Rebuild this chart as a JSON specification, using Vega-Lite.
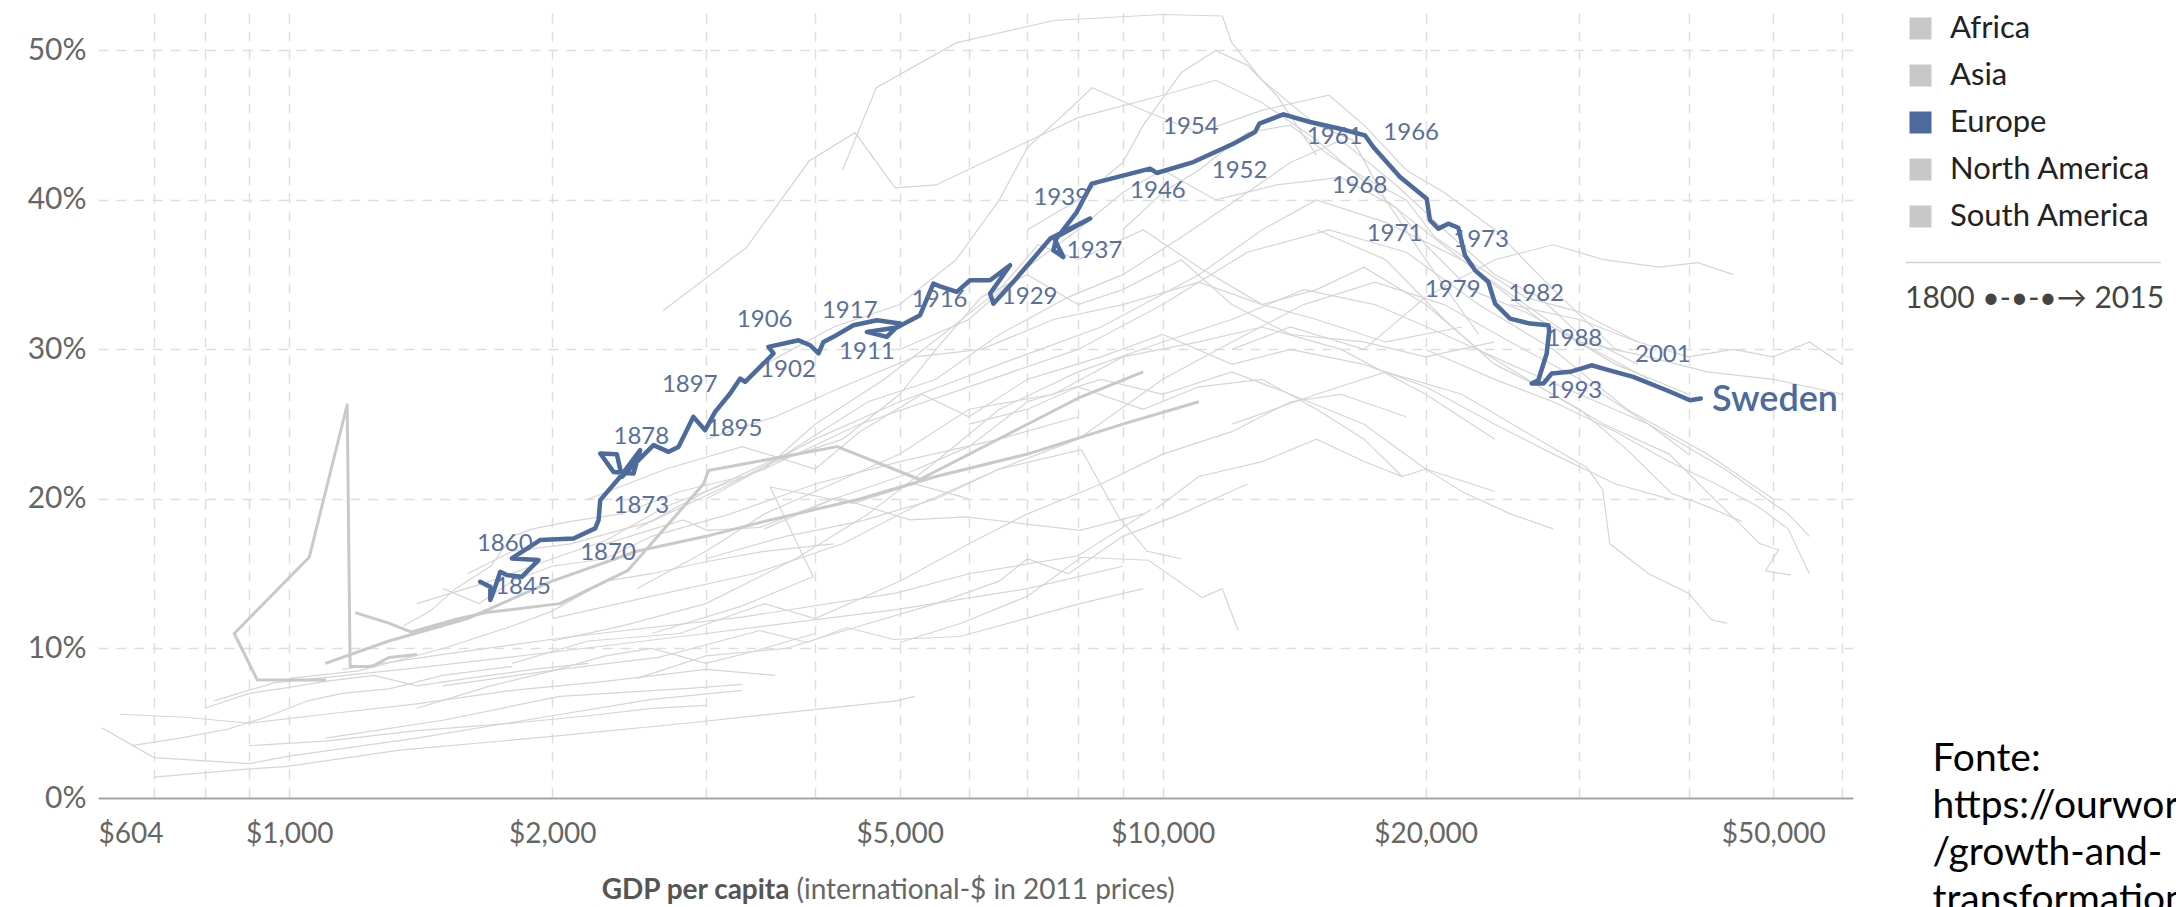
{
  "$schema": "https://vega.github.io/schema/vega-lite/v6.json",
  "width": 1755,
  "height": 785,
  "autosize": "none",
  "padding": {"left": 98, "top": 13, "right": 323, "bottom": 109},
  "background": "#ffffff",
  "config": {"view": {"stroke": null}, "font": "Lato"},
  "datasets": {
    "others": [
      {"country":"Nigeria","step":0,"gdp":700,"share":0.014},{"country":"Nigeria","step":1,"gdp":880,"share":0.019},{"country":"Nigeria","step":2,"gdp":990,"share":0.021},{"country":"Nigeria","step":3,"gdp":1340,"share":0.032},{"country":"Nigeria","step":4,"gdp":1985,"share":0.041},{"country":"Nigeria","step":5,"gdp":2850,"share":0.050},{"country":"Nigeria","step":6,"gdp":4960,"share":0.065},{"country":"Nigeria","step":7,"gdp":5200,"share":0.068},
      {"country":"Ghana","step":0,"gdp":610,"share":0.047},{"country":"Ghana","step":1,"gdp":700,"share":0.027},{"country":"Ghana","step":2,"gdp":900,"share":0.023},{"country":"Ghana","step":3,"gdp":1000,"share":0.028},{"country":"Ghana","step":4,"gdp":1400,"share":0.040},{"country":"Ghana","step":5,"gdp":2000,"share":0.055},{"country":"Ghana","step":6,"gdp":2600,"share":0.066},{"country":"Ghana","step":7,"gdp":3300,"share":0.072},
      {"country":"Kenya","step":0,"gdp":640,"share":0.056},{"country":"Kenya","step":1,"gdp":760,"share":0.054},{"country":"Kenya","step":2,"gdp":900,"share":0.050},{"country":"Kenya","step":3,"gdp":1100,"share":0.056},{"country":"Kenya","step":4,"gdp":1400,"share":0.063},{"country":"Kenya","step":5,"gdp":1800,"share":0.072},{"country":"Kenya","step":6,"gdp":2300,"share":0.078},{"country":"Kenya","step":7,"gdp":3000,"share":0.086},{"country":"Kenya","step":8,"gdp":3600,"share":0.082},
      {"country":"India","step":0,"gdp":820,"share":0.065},{"country":"India","step":1,"gdp":960,"share":0.077},{"country":"India","step":2,"gdp":1400,"share":0.087},{"country":"India","step":3,"gdp":2100,"share":0.099},{"country":"India","step":4,"gdp":3000,"share":0.110},{"country":"India","step":5,"gdp":4950,"share":0.126},{"country":"India","step":6,"gdp":7000,"share":0.140},{"country":"India","step":7,"gdp":9000,"share":0.155},
      {"country":"Indonesia","step":0,"gdp":1150,"share":0.086},{"country":"Indonesia","step":1,"gdp":1500,"share":0.096},{"country":"Indonesia","step":2,"gdp":2110,"share":0.108},{"country":"Indonesia","step":3,"gdp":3300,"share":0.121},{"country":"Indonesia","step":4,"gdp":4950,"share":0.137},{"country":"Indonesia","step":5,"gdp":6000,"share":0.150},{"country":"Indonesia","step":6,"gdp":8000,"share":0.162},{"country":"Indonesia","step":7,"gdp":9700,"share":0.193},
      {"country":"Egypt","step":0,"gdp":660,"share":0.035},{"country":"Egypt","step":1,"gdp":750,"share":0.040},{"country":"Egypt","step":2,"gdp":850,"share":0.046},{"country":"Egypt","step":3,"gdp":950,"share":0.055},{"country":"Egypt","step":4,"gdp":1050,"share":0.065},{"country":"Egypt","step":5,"gdp":1150,"share":0.070},{"country":"Egypt","step":6,"gdp":1300,"share":0.073},{"country":"Egypt","step":7,"gdp":1500,"share":0.082},{"country":"Egypt","step":8,"gdp":1800,"share":0.088},
      {"country":"Morocco","step":0,"gdp":800,"share":0.060},{"country":"Morocco","step":1,"gdp":900,"share":0.070},{"country":"Morocco","step":2,"gdp":1000,"share":0.074},{"country":"Morocco","step":3,"gdp":1100,"share":0.078},{"country":"Morocco","step":4,"gdp":1250,"share":0.082},{"country":"Morocco","step":5,"gdp":1400,"share":0.075},{"country":"Morocco","step":6,"gdp":1600,"share":0.080},{"country":"Morocco","step":7,"gdp":1900,"share":0.086},{"country":"Morocco","step":8,"gdp":2200,"share":0.090},
      {"country":"Philippines","step":0,"gdp":1400,"share":0.060},{"country":"Philippines","step":1,"gdp":1700,"share":0.075},{"country":"Philippines","step":2,"gdp":2000,"share":0.085},{"country":"Philippines","step":3,"gdp":2300,"share":0.095},{"country":"Philippines","step":4,"gdp":2600,"share":0.100},{"country":"Philippines","step":5,"gdp":3000,"share":0.090},{"country":"Philippines","step":6,"gdp":3400,"share":0.098},{"country":"Philippines","step":7,"gdp":4000,"share":0.110},
      {"country":"Pakistan","step":0,"gdp":900,"share":0.035},{"country":"Pakistan","step":1,"gdp":1100,"share":0.038},{"country":"Pakistan","step":2,"gdp":1400,"share":0.045},{"country":"Pakistan","step":3,"gdp":1800,"share":0.050},{"country":"Pakistan","step":4,"gdp":2200,"share":0.055},{"country":"Pakistan","step":5,"gdp":2600,"share":0.060},{"country":"Pakistan","step":6,"gdp":3000,"share":0.062},
      {"country":"Vietnam","step":0,"gdp":1100,"share":0.040},{"country":"Vietnam","step":1,"gdp":1500,"share":0.052},{"country":"Vietnam","step":2,"gdp":2041,"share":0.068},{"country":"Vietnam","step":3,"gdp":2980,"share":0.074},{"country":"Vietnam","step":4,"gdp":3300,"share":0.076},
      {"country":"Sri Lanka","step":0,"gdp":1500,"share":0.075},{"country":"Sri Lanka","step":1,"gdp":2041,"share":0.086},{"country":"Sri Lanka","step":2,"gdp":2647,"share":0.094},{"country":"Sri Lanka","step":3,"gdp":3460,"share":0.112},{"country":"Sri Lanka","step":4,"gdp":3917,"share":0.104},{"country":"Sri Lanka","step":5,"gdp":4353,"share":0.114},{"country":"Sri Lanka","step":6,"gdp":4920,"share":0.106},{"country":"Sri Lanka","step":7,"gdp":5860,"share":0.108},{"country":"Sri Lanka","step":8,"gdp":8040,"share":0.130},{"country":"Sri Lanka","step":9,"gdp":9500,"share":0.140},
      {"country":"Thailand","step":0,"gdp":2500,"share":0.080},{"country":"Thailand","step":1,"gdp":3000,"share":0.095},{"country":"Thailand","step":2,"gdp":3700,"share":0.100},{"country":"Thailand","step":3,"gdp":4500,"share":0.115},{"country":"Thailand","step":4,"gdp":5500,"share":0.130},{"country":"Thailand","step":5,"gdp":6500,"share":0.145},{"country":"Thailand","step":6,"gdp":7000,"share":0.160},{"country":"Thailand","step":7,"gdp":7800,"share":0.150},{"country":"Thailand","step":8,"gdp":9000,"share":0.175},{"country":"Thailand","step":9,"gdp":10500,"share":0.190},{"country":"Thailand","step":10,"gdp":12500,"share":0.210},
      {"country":"Brazil","step":0,"gdp":1800,"share":0.090},{"country":"Brazil","step":1,"gdp":2200,"share":0.105},{"country":"Brazil","step":2,"gdp":2800,"share":0.110},{"country":"Brazil","step":3,"gdp":3500,"share":0.130},{"country":"Brazil","step":4,"gdp":4000,"share":0.120},{"country":"Brazil","step":5,"gdp":5000,"share":0.145},{"country":"Brazil","step":6,"gdp":6000,"share":0.170},{"country":"Brazil","step":7,"gdp":7000,"share":0.190},{"country":"Brazil","step":8,"gdp":8500,"share":0.210},{"country":"Brazil","step":9,"gdp":10000,"share":0.230},{"country":"Brazil","step":10,"gdp":12000,"share":0.245},{"country":"Brazil","step":11,"gdp":14000,"share":0.265},{"country":"Brazil","step":12,"gdp":16000,"share":0.270},{"country":"Brazil","step":13,"gdp":19000,"share":0.255},
      {"country":"Mexico","step":0,"gdp":1000,"share":0.080},{"country":"Mexico","step":1,"gdp":1200,"share":0.085},{"country":"Mexico","step":2,"gdp":1500,"share":0.100},{"country":"Mexico","step":3,"gdp":1800,"share":0.115},{"country":"Mexico","step":4,"gdp":2000,"share":0.125},{"country":"Mexico","step":5,"gdp":2300,"share":0.145},{"country":"Mexico","step":6,"gdp":2600,"share":0.150},{"country":"Mexico","step":7,"gdp":3000,"share":0.158},{"country":"Mexico","step":8,"gdp":3500,"share":0.165},{"country":"Mexico","step":9,"gdp":4200,"share":0.170},
      {"country":"Colombia","step":0,"gdp":1500,"share":0.140},{"country":"Colombia","step":1,"gdp":1650,"share":0.130},{"country":"Colombia","step":2,"gdp":1800,"share":0.145},{"country":"Colombia","step":3,"gdp":2000,"share":0.155},{"country":"Colombia","step":4,"gdp":2300,"share":0.160},{"country":"Colombia","step":5,"gdp":2600,"share":0.175},{"country":"Colombia","step":6,"gdp":3200,"share":0.190},{"country":"Colombia","step":7,"gdp":4000,"share":0.210},{"country":"Colombia","step":8,"gdp":5000,"share":0.225},{"country":"Colombia","step":9,"gdp":6500,"share":0.240},{"country":"Colombia","step":10,"gdp":8000,"share":0.255},
      {"country":"Chile","step":0,"gdp":1350,"share":0.115},{"country":"Chile","step":1,"gdp":1450,"share":0.125},{"country":"Chile","step":2,"gdp":1550,"share":0.140},{"country":"Chile","step":3,"gdp":1700,"share":0.155},{"country":"Chile","step":4,"gdp":1800,"share":0.175},{"country":"Chile","step":5,"gdp":1900,"share":0.180},{"country":"Chile","step":6,"gdp":2100,"share":0.185},{"country":"Chile","step":7,"gdp":2400,"share":0.190},{"country":"Chile","step":8,"gdp":2800,"share":0.205},{"country":"Chile","step":9,"gdp":3300,"share":0.215},
      {"country":"Peru","step":0,"gdp":2300,"share":0.170},{"country":"Peru","step":1,"gdp":2825,"share":0.186},{"country":"Peru","step":2,"gdp":3010,"share":0.179},{"country":"Peru","step":3,"gdp":3460,"share":0.181},{"country":"Peru","step":4,"gdp":4240,"share":0.201},{"country":"Peru","step":5,"gdp":5137,"share":0.186},{"country":"Peru","step":6,"gdp":5960,"share":0.188},{"country":"Peru","step":7,"gdp":8040,"share":0.179},{"country":"Peru","step":8,"gdp":9500,"share":0.190},
      {"country":"Ecuador","step":0,"gdp":2600,"share":0.110},{"country":"Ecuador","step":1,"gdp":3283,"share":0.128},{"country":"Ecuador","step":2,"gdp":3979,"share":0.148},{"country":"Ecuador","step":3,"gdp":3553,"share":0.208},{"country":"Ecuador","step":4,"gdp":4421,"share":0.197},{"country":"Ecuador","step":5,"gdp":5200,"share":0.210},{"country":"Ecuador","step":6,"gdp":6000,"share":0.200},
      {"country":"Argentina","step":0,"gdp":2200,"share":0.200},{"country":"Argentina","step":1,"gdp":2700,"share":0.220},{"country":"Argentina","step":2,"gdp":3300,"share":0.235},{"country":"Argentina","step":3,"gdp":4000,"share":0.220},{"country":"Argentina","step":4,"gdp":4500,"share":0.245},{"country":"Argentina","step":5,"gdp":5300,"share":0.270},{"country":"Argentina","step":6,"gdp":6000,"share":0.255},{"country":"Argentina","step":7,"gdp":7000,"share":0.280},{"country":"Argentina","step":8,"gdp":8500,"share":0.295},{"country":"Argentina","step":9,"gdp":10000,"share":0.310},{"country":"Argentina","step":10,"gdp":12000,"share":0.290},{"country":"Argentina","step":11,"gdp":14000,"share":0.300},{"country":"Argentina","step":12,"gdp":17000,"share":0.290},{"country":"Argentina","step":13,"gdp":20000,"share":0.275},{"country":"Argentina","step":14,"gdp":24000,"share":0.250},{"country":"Argentina","step":15,"gdp":28000,"share":0.230},{"country":"Argentina","step":16,"gdp":33000,"share":0.210},{"country":"Argentina","step":17,"gdp":38000,"share":0.200},
      {"country":"Venezuela","step":0,"gdp":3000,"share":0.160},{"country":"Venezuela","step":1,"gdp":3700,"share":0.175},{"country":"Venezuela","step":2,"gdp":4500,"share":0.185},{"country":"Venezuela","step":3,"gdp":5500,"share":0.200},{"country":"Venezuela","step":4,"gdp":6500,"share":0.220},{"country":"Venezuela","step":5,"gdp":8070,"share":0.233},{"country":"Venezuela","step":6,"gdp":8900,"share":0.188},{"country":"Venezuela","step":7,"gdp":9600,"share":0.165},{"country":"Venezuela","step":8,"gdp":10500,"share":0.160},
      {"country":"Uruguay","step":0,"gdp":5000,"share":0.104},{"country":"Uruguay","step":1,"gdp":5890,"share":0.117},{"country":"Uruguay","step":2,"gdp":7000,"share":0.135},{"country":"Uruguay","step":3,"gdp":8070,"share":0.161},{"country":"Uruguay","step":4,"gdp":9630,"share":0.159},{"country":"Uruguay","step":5,"gdp":11100,"share":0.134},{"country":"Uruguay","step":6,"gdp":11700,"share":0.140},{"country":"Uruguay","step":7,"gdp":12200,"share":0.112},
      {"country":"South Africa","step":0,"gdp":6000,"share":0.250},{"country":"South Africa","step":1,"gdp":7000,"share":0.260},{"country":"South Africa","step":2,"gdp":8000,"share":0.275},{"country":"South Africa","step":3,"gdp":9500,"share":0.260},{"country":"South Africa","step":4,"gdp":11000,"share":0.275},{"country":"South Africa","step":5,"gdp":13000,"share":0.280},{"country":"South Africa","step":6,"gdp":15000,"share":0.260},{"country":"South Africa","step":7,"gdp":17000,"share":0.240},{"country":"South Africa","step":8,"gdp":18800,"share":0.215},
      {"country":"Canada","step":0,"gdp":1600,"share":0.150},{"country":"Canada","step":1,"gdp":1800,"share":0.165},{"country":"Canada","step":2,"gdp":2100,"share":0.170},{"country":"Canada","step":3,"gdp":2600,"share":0.185},{"country":"Canada","step":4,"gdp":3200,"share":0.210},{"country":"Canada","step":5,"gdp":4000,"share":0.240},{"country":"Canada","step":6,"gdp":5000,"share":0.265},{"country":"Canada","step":7,"gdp":6500,"share":0.290},{"country":"Canada","step":8,"gdp":8500,"share":0.315},{"country":"Canada","step":9,"gdp":11000,"share":0.350},{"country":"Canada","step":10,"gdp":13000,"share":0.380},{"country":"Canada","step":11,"gdp":15000,"share":0.400},{"country":"Canada","step":12,"gdp":18000,"share":0.385},{"country":"Canada","step":13,"gdp":22000,"share":0.360},{"country":"Canada","step":14,"gdp":27000,"share":0.320},{"country":"Canada","step":15,"gdp":33000,"share":0.290},{"country":"Canada","step":16,"gdp":40000,"share":0.270},
      {"country":"United States","step":0,"gdp":1400,"share":0.130},{"country":"United States","step":1,"gdp":1700,"share":0.145},{"country":"United States","step":2,"gdp":2000,"share":0.160},{"country":"United States","step":3,"gdp":2300,"share":0.172},{"country":"United States","step":4,"gdp":2700,"share":0.195},{"country":"United States","step":5,"gdp":3500,"share":0.220},{"country":"United States","step":6,"gdp":4500,"share":0.250},{"country":"United States","step":7,"gdp":6000,"share":0.275},{"country":"United States","step":8,"gdp":8000,"share":0.300},{"country":"United States","step":9,"gdp":10000,"share":0.330},{"country":"United States","step":10,"gdp":12500,"share":0.365},{"country":"United States","step":11,"gdp":15500,"share":0.380},{"country":"United States","step":12,"gdp":19000,"share":0.365},{"country":"United States","step":13,"gdp":23000,"share":0.330},{"country":"United States","step":14,"gdp":28000,"share":0.300},{"country":"United States","step":15,"gdp":34000,"share":0.260},{"country":"United States","step":16,"gdp":42000,"share":0.230},{"country":"United States","step":17,"gdp":50000,"share":0.200},
      {"country":"Japan","step":0,"gdp":2000,"share":0.120},{"country":"Japan","step":1,"gdp":2600,"share":0.135},{"country":"Japan","step":2,"gdp":3400,"share":0.150},{"country":"Japan","step":3,"gdp":4300,"share":0.170},{"country":"Japan","step":4,"gdp":5200,"share":0.195},{"country":"Japan","step":5,"gdp":6500,"share":0.220},{"country":"Japan","step":6,"gdp":8000,"share":0.240},{"country":"Japan","step":7,"gdp":10000,"share":0.280},{"country":"Japan","step":8,"gdp":12000,"share":0.305},{"country":"Japan","step":9,"gdp":14500,"share":0.330},{"country":"Japan","step":10,"gdp":17500,"share":0.345},{"country":"Japan","step":11,"gdp":21000,"share":0.330},{"country":"Japan","step":12,"gdp":25000,"share":0.305},{"country":"Japan","step":13,"gdp":30000,"share":0.280},{"country":"Japan","step":14,"gdp":36000,"share":0.250},{"country":"Japan","step":15,"gdp":44000,"share":0.220},{"country":"Japan","step":16,"gdp":52000,"share":0.190},{"country":"Japan","step":17,"gdp":55000,"share":0.175},
      {"country":"Germany","step":0,"gdp":2500,"share":0.180},{"country":"Germany","step":1,"gdp":3000,"share":0.205},{"country":"Germany","step":2,"gdp":3700,"share":0.230},{"country":"Germany","step":3,"gdp":4600,"share":0.265},{"country":"Germany","step":4,"gdp":5500,"share":0.280},{"country":"Germany","step":5,"gdp":6500,"share":0.310},{"country":"Germany","step":6,"gdp":7800,"share":0.335},{"country":"Germany","step":7,"gdp":9000,"share":0.350},{"country":"Germany","step":8,"gdp":10500,"share":0.375},{"country":"Germany","step":9,"gdp":12500,"share":0.405},{"country":"Germany","step":10,"gdp":14000,"share":0.425},{"country":"Germany","step":11,"gdp":16000,"share":0.440},{"country":"Germany","step":12,"gdp":18500,"share":0.410},{"country":"Germany","step":13,"gdp":21000,"share":0.380},{"country":"Germany","step":14,"gdp":24000,"share":0.350},{"country":"Germany","step":15,"gdp":27000,"share":0.335},{"country":"Germany","step":16,"gdp":30000,"share":0.310},{"country":"Germany","step":17,"gdp":35000,"share":0.290},
      {"country":"United Kingdom","step":0,"gdp":2680,"share":0.326},{"country":"United Kingdom","step":1,"gdp":3335,"share":0.368},{"country":"United Kingdom","step":2,"gdp":3937,"share":0.426},{"country":"United Kingdom","step":3,"gdp":4444,"share":0.445},{"country":"United Kingdom","step":4,"gdp":4939,"share":0.408},{"country":"United Kingdom","step":5,"gdp":5500,"share":0.410},{"country":"United Kingdom","step":6,"gdp":6500,"share":0.430},{"country":"United Kingdom","step":7,"gdp":8000,"share":0.455},{"country":"United Kingdom","step":8,"gdp":10000,"share":0.470},{"country":"United Kingdom","step":9,"gdp":11500,"share":0.480},{"country":"United Kingdom","step":10,"gdp":13000,"share":0.465},{"country":"United Kingdom","step":11,"gdp":15000,"share":0.440},{"country":"United Kingdom","step":12,"gdp":18000,"share":0.400},{"country":"United Kingdom","step":13,"gdp":22000,"share":0.360},{"country":"United Kingdom","step":14,"gdp":26000,"share":0.330},{"country":"United Kingdom","step":15,"gdp":30000,"share":0.305},{"country":"United Kingdom","step":16,"gdp":36000,"share":0.280},
      {"country":"Belgium","step":0,"gdp":4300,"share":0.420},{"country":"Belgium","step":1,"gdp":4700,"share":0.475},{"country":"Belgium","step":2,"gdp":5800,"share":0.505},{"country":"Belgium","step":3,"gdp":7500,"share":0.520},{"country":"Belgium","step":4,"gdp":10000,"share":0.524},{"country":"Belgium","step":5,"gdp":11700,"share":0.523},{"country":"Belgium","step":6,"gdp":12000,"share":0.505},{"country":"Belgium","step":7,"gdp":13000,"share":0.480},{"country":"Belgium","step":8,"gdp":15000,"share":0.450},{"country":"Belgium","step":9,"gdp":16500,"share":0.440},{"country":"Belgium","step":10,"gdp":18000,"share":0.400},{"country":"Belgium","step":11,"gdp":20000,"share":0.360},{"country":"Belgium","step":12,"gdp":23000,"share":0.310},
      {"country":"Switzerland","step":0,"gdp":3500,"share":0.290},{"country":"Switzerland","step":1,"gdp":4200,"share":0.315},{"country":"Switzerland","step":2,"gdp":5000,"share":0.330},{"country":"Switzerland","step":3,"gdp":5800,"share":0.360},{"country":"Switzerland","step":4,"gdp":6500,"share":0.400},{"country":"Switzerland","step":5,"gdp":7000,"share":0.435},{"country":"Switzerland","step":6,"gdp":7800,"share":0.460},{"country":"Switzerland","step":7,"gdp":8300,"share":0.475},{"country":"Switzerland","step":8,"gdp":9500,"share":0.460},{"country":"Switzerland","step":9,"gdp":11000,"share":0.445},{"country":"Switzerland","step":10,"gdp":13000,"share":0.460},{"country":"Switzerland","step":11,"gdp":15500,"share":0.470},{"country":"Switzerland","step":12,"gdp":17000,"share":0.450},{"country":"Switzerland","step":13,"gdp":19000,"share":0.420},{"country":"Switzerland","step":14,"gdp":21000,"share":0.405},{"country":"Switzerland","step":15,"gdp":24000,"share":0.380},{"country":"Switzerland","step":16,"gdp":28000,"share":0.340},{"country":"Switzerland","step":17,"gdp":33000,"share":0.300},
      {"country":"Austria","step":0,"gdp":5000,"share":0.300},{"country":"Austria","step":1,"gdp":6000,"share":0.320},{"country":"Austria","step":2,"gdp":7000,"share":0.355},{"country":"Austria","step":3,"gdp":8000,"share":0.380},{"country":"Austria","step":4,"gdp":9000,"share":0.405},{"country":"Austria","step":5,"gdp":10000,"share":0.420},{"country":"Austria","step":6,"gdp":11500,"share":0.400},{"country":"Austria","step":7,"gdp":13500,"share":0.410},{"country":"Austria","step":8,"gdp":16000,"share":0.415},{"country":"Austria","step":9,"gdp":18500,"share":0.395},{"country":"Austria","step":10,"gdp":20000,"share":0.370},{"country":"Austria","step":11,"gdp":22500,"share":0.340},{"country":"Austria","step":12,"gdp":26000,"share":0.325},{"country":"Austria","step":13,"gdp":30000,"share":0.305},{"country":"Austria","step":14,"gdp":36000,"share":0.295},{"country":"Austria","step":15,"gdp":42000,"share":0.285},{"country":"Austria","step":16,"gdp":50000,"share":0.280},{"country":"Austria","step":17,"gdp":60000,"share":0.270},
      {"country":"France","step":0,"gdp":3000,"share":0.240},{"country":"France","step":1,"gdp":3600,"share":0.255},{"country":"France","step":2,"gdp":4300,"share":0.275},{"country":"France","step":3,"gdp":5200,"share":0.295},{"country":"France","step":4,"gdp":6200,"share":0.300},{"country":"France","step":5,"gdp":7500,"share":0.320},{"country":"France","step":6,"gdp":9000,"share":0.330},{"country":"France","step":7,"gdp":11000,"share":0.345},{"country":"France","step":8,"gdp":13000,"share":0.330},{"country":"France","step":9,"gdp":15000,"share":0.340},{"country":"France","step":10,"gdp":17000,"share":0.355},{"country":"France","step":11,"gdp":20000,"share":0.330},{"country":"France","step":12,"gdp":23000,"share":0.300},{"country":"France","step":13,"gdp":27000,"share":0.275},{"country":"France","step":14,"gdp":32000,"share":0.250},{"country":"France","step":15,"gdp":38000,"share":0.230},{"country":"France","step":16,"gdp":44000,"share":0.193},{"country":"France","step":17,"gdp":48300,"share":0.170},{"country":"France","step":18,"gdp":50700,"share":0.166},{"country":"France","step":19,"gdp":49000,"share":0.152},{"country":"France","step":20,"gdp":52400,"share":0.149},
      {"country":"Norway","step":0,"gdp":12000,"share":0.300},{"country":"Norway","step":1,"gdp":14000,"share":0.315},{"country":"Norway","step":2,"gdp":17000,"share":0.300},{"country":"Norway","step":3,"gdp":20000,"share":0.335},{"country":"Norway","step":4,"gdp":24000,"share":0.360},{"country":"Norway","step":5,"gdp":28000,"share":0.370},{"country":"Norway","step":6,"gdp":32000,"share":0.360},{"country":"Norway","step":7,"gdp":37000,"share":0.355},{"country":"Norway","step":8,"gdp":41000,"share":0.358},{"country":"Norway","step":9,"gdp":45000,"share":0.350},
      {"country":"Denmark","step":0,"gdp":12000,"share":0.250},{"country":"Denmark","step":1,"gdp":15000,"share":0.270},{"country":"Denmark","step":2,"gdp":18000,"share":0.285},{"country":"Denmark","step":3,"gdp":22000,"share":0.270},{"country":"Denmark","step":4,"gdp":26000,"share":0.245},{"country":"Denmark","step":5,"gdp":30600,"share":0.221},{"country":"Denmark","step":6,"gdp":31900,"share":0.206},{"country":"Denmark","step":7,"gdp":32500,"share":0.170},{"country":"Denmark","step":8,"gdp":36000,"share":0.150},{"country":"Denmark","step":9,"gdp":40000,"share":0.137},{"country":"Denmark","step":10,"gdp":42500,"share":0.119},{"country":"Denmark","step":11,"gdp":44300,"share":0.117},
      {"country":"Italy","step":0,"gdp":9000,"share":0.380},{"country":"Italy","step":1,"gdp":10000,"share":0.405},{"country":"Italy","step":2,"gdp":11000,"share":0.420},{"country":"Italy","step":3,"gdp":12500,"share":0.445},{"country":"Italy","step":4,"gdp":14000,"share":0.450},{"country":"Italy","step":5,"gdp":15500,"share":0.430},{"country":"Italy","step":6,"gdp":17000,"share":0.415},{"country":"Italy","step":7,"gdp":19000,"share":0.400},{"country":"Italy","step":8,"gdp":20500,"share":0.375},{"country":"Italy","step":9,"gdp":23000,"share":0.355},{"country":"Italy","step":10,"gdp":26000,"share":0.335},{"country":"Italy","step":11,"gdp":30000,"share":0.325},{"country":"Italy","step":12,"gdp":35000,"share":0.305},
      {"country":"Czechia","step":0,"gdp":7000,"share":0.380},{"country":"Czechia","step":1,"gdp":8000,"share":0.400},{"country":"Czechia","step":2,"gdp":9000,"share":0.425},{"country":"Czechia","step":3,"gdp":9500,"share":0.450},{"country":"Czechia","step":4,"gdp":10500,"share":0.485},{"country":"Czechia","step":5,"gdp":11500,"share":0.500},{"country":"Czechia","step":6,"gdp":12500,"share":0.490},{"country":"Czechia","step":7,"gdp":13500,"share":0.470},{"country":"Czechia","step":8,"gdp":15000,"share":0.430},
      {"country":"Spain","step":0,"gdp":9800,"share":0.193},{"country":"Spain","step":1,"gdp":11000,"share":0.215},{"country":"Spain","step":2,"gdp":13000,"share":0.225},{"country":"Spain","step":3,"gdp":15000,"share":0.240},{"country":"Spain","step":4,"gdp":17000,"share":0.225},{"country":"Spain","step":5,"gdp":18800,"share":0.215},{"country":"Spain","step":6,"gdp":20000,"share":0.220},{"country":"Spain","step":7,"gdp":22000,"share":0.205},{"country":"Spain","step":8,"gdp":25000,"share":0.190},{"country":"Spain","step":9,"gdp":28000,"share":0.180},
      {"country":"Portugal","step":0,"gdp":2500,"share":0.140},{"country":"Portugal","step":1,"gdp":3000,"share":0.165},{"country":"Portugal","step":2,"gdp":3500,"share":0.190},{"country":"Portugal","step":3,"gdp":4000,"share":0.205},{"country":"Portugal","step":4,"gdp":5000,"share":0.230},{"country":"Portugal","step":5,"gdp":6000,"share":0.260},{"country":"Portugal","step":6,"gdp":7500,"share":0.270},{"country":"Portugal","step":7,"gdp":9000,"share":0.295},{"country":"Portugal","step":8,"gdp":11000,"share":0.305},{"country":"Portugal","step":9,"gdp":13000,"share":0.315},{"country":"Portugal","step":10,"gdp":16000,"share":0.300},{"country":"Portugal","step":11,"gdp":20000,"share":0.270},{"country":"Portugal","step":12,"gdp":24000,"share":0.240},
      {"country":"Greece","step":0,"gdp":3500,"share":0.180},{"country":"Greece","step":1,"gdp":4200,"share":0.200},{"country":"Greece","step":2,"gdp":5000,"share":0.215},{"country":"Greece","step":3,"gdp":6000,"share":0.235},{"country":"Greece","step":4,"gdp":7000,"share":0.265},{"country":"Greece","step":5,"gdp":8500,"share":0.280},{"country":"Greece","step":6,"gdp":10000,"share":0.270},{"country":"Greece","step":7,"gdp":12000,"share":0.285},{"country":"Greece","step":8,"gdp":14000,"share":0.270},{"country":"Greece","step":9,"gdp":17000,"share":0.250},{"country":"Greece","step":10,"gdp":20000,"share":0.220},{"country":"Greece","step":11,"gdp":24000,"share":0.205},
      {"country":"Finland","step":0,"gdp":2000,"share":0.105},{"country":"Finland","step":1,"gdp":2400,"share":0.115},{"country":"Finland","step":2,"gdp":3000,"share":0.130},{"country":"Finland","step":3,"gdp":3800,"share":0.160},{"country":"Finland","step":4,"gdp":4600,"share":0.190},{"country":"Finland","step":5,"gdp":5500,"share":0.225},{"country":"Finland","step":6,"gdp":6500,"share":0.260},{"country":"Finland","step":7,"gdp":8000,"share":0.285},{"country":"Finland","step":8,"gdp":10000,"share":0.305},{"country":"Finland","step":9,"gdp":12000,"share":0.320},{"country":"Finland","step":10,"gdp":14500,"share":0.340},{"country":"Finland","step":11,"gdp":17500,"share":0.330},{"country":"Finland","step":12,"gdp":21000,"share":0.310},{"country":"Finland","step":13,"gdp":25000,"share":0.290},{"country":"Finland","step":14,"gdp":30000,"share":0.270},{"country":"Finland","step":15,"gdp":36000,"share":0.250},{"country":"Finland","step":16,"gdp":40000,"share":0.230},
      {"country":"Poland","step":0,"gdp":3000,"share":0.200},{"country":"Poland","step":1,"gdp":3600,"share":0.225},{"country":"Poland","step":2,"gdp":4300,"share":0.240},{"country":"Poland","step":3,"gdp":5000,"share":0.270},{"country":"Poland","step":4,"gdp":5500,"share":0.300},{"country":"Poland","step":5,"gdp":6200,"share":0.335},{"country":"Poland","step":6,"gdp":7000,"share":0.350},{"country":"Poland","step":7,"gdp":8000,"share":0.330},{"country":"Poland","step":8,"gdp":9000,"share":0.340},{"country":"Poland","step":9,"gdp":10500,"share":0.360},{"country":"Poland","step":10,"gdp":12000,"share":0.330},{"country":"Poland","step":11,"gdp":14000,"share":0.310},{"country":"Poland","step":12,"gdp":17000,"share":0.305},{"country":"Poland","step":13,"gdp":20000,"share":0.295},{"country":"Poland","step":14,"gdp":24000,"share":0.305},
      {"country":"Hungary","step":0,"gdp":3500,"share":0.220},{"country":"Hungary","step":1,"gdp":4000,"share":0.250},{"country":"Hungary","step":2,"gdp":4800,"share":0.280},{"country":"Hungary","step":3,"gdp":5600,"share":0.310},{"country":"Hungary","step":4,"gdp":6500,"share":0.340},{"country":"Hungary","step":5,"gdp":7200,"share":0.370},{"country":"Hungary","step":6,"gdp":8000,"share":0.360},{"country":"Hungary","step":7,"gdp":9500,"share":0.380},{"country":"Hungary","step":8,"gdp":11000,"share":0.355},{"country":"Hungary","step":9,"gdp":13000,"share":0.330},{"country":"Hungary","step":10,"gdp":15000,"share":0.320},{"country":"Hungary","step":11,"gdp":18000,"share":0.305},{"country":"Hungary","step":12,"gdp":22000,"share":0.315},
      {"country":"Netherlands","step":0,"gdp":15000,"share":0.380},{"country":"Netherlands","step":1,"gdp":18000,"share":0.360},{"country":"Netherlands","step":2,"gdp":21000,"share":0.320},{"country":"Netherlands","step":3,"gdp":24000,"share":0.290},{"country":"Netherlands","step":4,"gdp":27000,"share":0.275},{"country":"Netherlands","step":5,"gdp":30000,"share":0.260},{"country":"Netherlands","step":6,"gdp":34000,"share":0.233},{"country":"Netherlands","step":7,"gdp":38200,"share":0.204},{"country":"Netherlands","step":8,"gdp":42000,"share":0.195},{"country":"Netherlands","step":9,"gdp":46000,"share":0.185},
      {"country":"Australia","step":0,"gdp":20000,"share":0.300},{"country":"Australia","step":1,"gdp":24000,"share":0.280},{"country":"Australia","step":2,"gdp":28000,"share":0.265},{"country":"Australia","step":3,"gdp":33000,"share":0.245},{"country":"Australia","step":4,"gdp":38000,"share":0.225},{"country":"Australia","step":5,"gdp":43000,"share":0.210},{"country":"Australia","step":6,"gdp":48000,"share":0.195},{"country":"Australia","step":7,"gdp":52000,"share":0.180},{"country":"Australia","step":8,"gdp":55000,"share":0.150},
      {"country":"Ireland","step":0,"gdp":25000,"share":0.330},{"country":"Ireland","step":1,"gdp":30000,"share":0.320},{"country":"Ireland","step":2,"gdp":35000,"share":0.305},{"country":"Ireland","step":3,"gdp":40000,"share":0.295},{"country":"Ireland","step":4,"gdp":45000,"share":0.300},{"country":"Ireland","step":5,"gdp":50000,"share":0.295},{"country":"Ireland","step":6,"gdp":55000,"share":0.305},{"country":"Ireland","step":7,"gdp":60000,"share":0.290}
    ],
    "others_bold": [
      {"country":"Russia","step":0,"gdp":1190,"share":0.124},{"country":"Russia","step":1,"gdp":1300,"share":0.117},{"country":"Russia","step":2,"gdp":1380,"share":0.111},{"country":"Russia","step":3,"gdp":1540,"share":0.119},{"country":"Russia","step":4,"gdp":1680,"share":0.124},{"country":"Russia","step":5,"gdp":2040,"share":0.130},{"country":"Russia","step":6,"gdp":2440,"share":0.152},{"country":"Russia","step":7,"gdp":2980,"share":0.210},{"country":"Russia","step":8,"gdp":3020,"share":0.219},{"country":"Russia","step":9,"gdp":4240,"share":0.235},{"country":"Russia","step":10,"gdp":5270,"share":0.213},{"country":"Russia","step":11,"gdp":8040,"share":0.268},{"country":"Russia","step":12,"gdp":9500,"share":0.285},
      {"country":"China","step":0,"gdp":1102,"share":0.079},{"country":"China","step":1,"gdp":919,"share":0.079},{"country":"China","step":2,"gdp":865,"share":0.110},{"country":"China","step":3,"gdp":1054,"share":0.161},{"country":"China","step":4,"gdp":1165,"share":0.263},{"country":"China","step":5,"gdp":1174,"share":0.088},{"country":"China","step":6,"gdp":1245,"share":0.088},{"country":"China","step":7,"gdp":1300,"share":0.094},{"country":"China","step":8,"gdp":1400,"share":0.096},
      {"country":"Turkey","step":0,"gdp":1100,"share":0.090},{"country":"Turkey","step":1,"gdp":1300,"share":0.105},{"country":"Turkey","step":2,"gdp":1600,"share":0.120},{"country":"Turkey","step":3,"gdp":2000,"share":0.145},{"country":"Turkey","step":4,"gdp":2500,"share":0.165},{"country":"Turkey","step":5,"gdp":3000,"share":0.175},{"country":"Turkey","step":6,"gdp":3500,"share":0.185},{"country":"Turkey","step":7,"gdp":4500,"share":0.200},{"country":"Turkey","step":8,"gdp":5500,"share":0.215},{"country":"Turkey","step":9,"gdp":7000,"share":0.230},{"country":"Turkey","step":10,"gdp":9000,"share":0.250},{"country":"Turkey","step":11,"gdp":11000,"share":0.265}
    ],
    "sweden": [
      {"country":"Sweden","continent":"Europe","year":1820,"gdp":1654,"share":0.1446},
      {"country":"Sweden","continent":"Europe","year":1830,"gdp":1699,"share":0.1412},
      {"country":"Sweden","continent":"Europe","year":1840,"gdp":1699,"share":0.1324},
      {"country":"Sweden","continent":"Europe","year":1845,"gdp":1721,"share":0.1412},
      {"country":"Sweden","continent":"Europe","year":1848,"gdp":1744,"share":0.1513},
      {"country":"Sweden","continent":"Europe","year":1850,"gdp":1775,"share":0.1491},
      {"country":"Sweden","continent":"Europe","year":1852,"gdp":1846,"share":0.1479},
      {"country":"Sweden","continent":"Europe","year":1855,"gdp":1929,"share":0.1591},
      {"country":"Sweden","continent":"Europe","year":1858,"gdp":1798,"share":0.1602},
      {"country":"Sweden","continent":"Europe","year":1860,"gdp":1937,"share":0.1725},
      {"country":"Sweden","continent":"Europe","year":1865,"gdp":2116,"share":0.1736},
      {"country":"Sweden","continent":"Europe","year":1870,"gdp":2240,"share":0.1803},
      {"country":"Sweden","continent":"Europe","year":1871,"gdp":2260,"share":0.1858},
      {"country":"Sweden","continent":"Europe","year":1873,"gdp":2270,"share":0.1992},
      {"country":"Sweden","continent":"Europe","year":1874,"gdp":2393,"share":0.2148},
      {"country":"Sweden","continent":"Europe","year":1875,"gdp":2522,"share":0.2326},
      {"country":"Sweden","continent":"Europe","year":1876,"gdp":2478,"share":0.2170},
      {"country":"Sweden","continent":"Europe","year":1877,"gdp":2351,"share":0.2181},
      {"country":"Sweden","continent":"Europe","year":1878,"gdp":2270,"share":0.2304},
      {"country":"Sweden","continent":"Europe","year":1879,"gdp":2372,"share":0.2299},
      {"country":"Sweden","continent":"Europe","year":1880,"gdp":2403,"share":0.2148},
      {"country":"Sweden","continent":"Europe","year":1885,"gdp":2612,"share":0.2360},
      {"country":"Sweden","continent":"Europe","year":1888,"gdp":2718,"share":0.2315},
      {"country":"Sweden","continent":"Europe","year":1890,"gdp":2790,"share":0.2348},
      {"country":"Sweden","continent":"Europe","year":1893,"gdp":2902,"share":0.2549},
      {"country":"Sweden","continent":"Europe","year":1895,"gdp":2993,"share":0.2460},
      {"country":"Sweden","continent":"Europe","year":1896,"gdp":3073,"share":0.2582},
      {"country":"Sweden","continent":"Europe","year":1897,"gdp":3197,"share":0.2705},
      {"country":"Sweden","continent":"Europe","year":1898,"gdp":3283,"share":0.2805},
      {"country":"Sweden","continent":"Europe","year":1899,"gdp":3326,"share":0.2783},
      {"country":"Sweden","continent":"Europe","year":1900,"gdp":3431,"share":0.2861},
      {"country":"Sweden","continent":"Europe","year":1902,"gdp":3584,"share":0.2973},
      {"country":"Sweden","continent":"Europe","year":1903,"gdp":3537,"share":0.3017},
      {"country":"Sweden","continent":"Europe","year":1906,"gdp":3829,"share":0.3061},
      {"country":"Sweden","continent":"Europe","year":1908,"gdp":3948,"share":0.3028},
      {"country":"Sweden","continent":"Europe","year":1911,"gdp":4036,"share":0.2973},
      {"country":"Sweden","continent":"Europe","year":1912,"gdp":4089,"share":0.3050},
      {"country":"Sweden","continent":"Europe","year":1913,"gdp":4198,"share":0.3084},
      {"country":"Sweden","continent":"Europe","year":1914,"gdp":4425,"share":0.3162},
      {"country":"Sweden","continent":"Europe","year":1915,"gdp":4707,"share":0.3195},
      {"country":"Sweden","continent":"Europe","year":1916,"gdp":5004,"share":0.3173},
      {"country":"Sweden","continent":"Europe","year":1917,"gdp":4832,"share":0.3084},
      {"country":"Sweden","continent":"Europe","year":1918,"gdp":4585,"share":0.3117},
      {"country":"Sweden","continent":"Europe","year":1919,"gdp":4961,"share":0.3146},
      {"country":"Sweden","continent":"Europe","year":1920,"gdp":5275,"share":0.3229},
      {"country":"Sweden","continent":"Europe","year":1922,"gdp":5463,"share":0.3440},
      {"country":"Sweden","continent":"Europe","year":1924,"gdp":5561,"share":0.3422},
      {"country":"Sweden","continent":"Europe","year":1925,"gdp":5811,"share":0.3385},
      {"country":"Sweden","continent":"Europe","year":1926,"gdp":6018,"share":0.3463},
      {"country":"Sweden","continent":"Europe","year":1927,"gdp":6344,"share":0.3463},
      {"country":"Sweden","continent":"Europe","year":1928,"gdp":6687,"share":0.3563},
      {"country":"Sweden","continent":"Europe","year":1929,"gdp":6344,"share":0.3373},
      {"country":"Sweden","continent":"Europe","year":1930,"gdp":6399,"share":0.3306},
      {"country":"Sweden","continent":"Europe","year":1931,"gdp":6746,"share":0.3452},
      {"country":"Sweden","continent":"Europe","year":1933,"gdp":7433,"share":0.3741},
      {"country":"Sweden","continent":"Europe","year":1934,"gdp":8258,"share":0.3875},
      {"country":"Sweden","continent":"Europe","year":1935,"gdp":7564,"share":0.3754},
      {"country":"Sweden","continent":"Europe","year":1936,"gdp":7495,"share":0.3663},
      {"country":"Sweden","continent":"Europe","year":1937,"gdp":7696,"share":0.3618},
      {"country":"Sweden","continent":"Europe","year":1938,"gdp":7530,"share":0.3730},
      {"country":"Sweden","continent":"Europe","year":1939,"gdp":7972,"share":0.3919},
      {"country":"Sweden","continent":"Europe","year":1940,"gdp":8294,"share":0.4109},
      {"country":"Sweden","continent":"Europe","year":1946,"gdp":9673,"share":0.4209},
      {"country":"Sweden","continent":"Europe","year":1948,"gdp":9844,"share":0.4180},
      {"country":"Sweden","continent":"Europe","year":1950,"gdp":10841,"share":0.4253},
      {"country":"Sweden","continent":"Europe","year":1952,"gdp":12046,"share":0.4376},
      {"country":"Sweden","continent":"Europe","year":1954,"gdp":12756,"share":0.4454},
      {"country":"Sweden","continent":"Europe","year":1955,"gdp":12899,"share":0.4510},
      {"country":"Sweden","continent":"Europe","year":1958,"gdp":13745,"share":0.4572},
      {"country":"Sweden","continent":"Europe","year":1961,"gdp":14744,"share":0.4521},
      {"country":"Sweden","continent":"Europe","year":1963,"gdp":15958,"share":0.4476},
      {"country":"Sweden","continent":"Europe","year":1965,"gdp":17043,"share":0.4432},
      {"country":"Sweden","continent":"Europe","year":1966,"gdp":17420,"share":0.4354},
      {"country":"Sweden","continent":"Europe","year":1968,"gdp":18692,"share":0.4153},
      {"country":"Sweden","continent":"Europe","year":1969,"gdp":20054,"share":0.4008},
      {"country":"Sweden","continent":"Europe","year":1970,"gdp":20229,"share":0.3864},
      {"country":"Sweden","continent":"Europe","year":1971,"gdp":20679,"share":0.3808},
      {"country":"Sweden","continent":"Europe","year":1972,"gdp":21231,"share":0.3841},
      {"country":"Sweden","continent":"Europe","year":1973,"gdp":21797,"share":0.3814},
      {"country":"Sweden","continent":"Europe","year":1975,"gdp":22179,"share":0.3630},
      {"country":"Sweden","continent":"Europe","year":1977,"gdp":22782,"share":0.3529},
      {"country":"Sweden","continent":"Europe","year":1979,"gdp":23596,"share":0.3451},
      {"country":"Sweden","continent":"Europe","year":1980,"gdp":24016,"share":0.3306},
      {"country":"Sweden","continent":"Europe","year":1982,"gdp":24984,"share":0.3206},
      {"country":"Sweden","continent":"Europe","year":1985,"gdp":26332,"share":0.3173},
      {"country":"Sweden","continent":"Europe","year":1987,"gdp":27635,"share":0.3162},
      {"country":"Sweden","continent":"Europe","year":1988,"gdp":27703,"share":0.3128},
      {"country":"Sweden","continent":"Europe","year":1990,"gdp":27518,"share":0.2973},
      {"country":"Sweden","continent":"Europe","year":1992,"gdp":26915,"share":0.2794},
      {"country":"Sweden","continent":"Europe","year":1993,"gdp":26450,"share":0.2772},
      {"country":"Sweden","continent":"Europe","year":1994,"gdp":27284,"share":0.2772},
      {"country":"Sweden","continent":"Europe","year":1995,"gdp":27883,"share":0.2839},
      {"country":"Sweden","continent":"Europe","year":1997,"gdp":29260,"share":0.2850},
      {"country":"Sweden","continent":"Europe","year":2000,"gdp":30977,"share":0.2894},
      {"country":"Sweden","continent":"Europe","year":2001,"gdp":31941,"share":0.2872},
      {"country":"Sweden","continent":"Europe","year":2005,"gdp":34571,"share":0.2816},
      {"country":"Sweden","continent":"Europe","year":2010,"gdp":37745,"share":0.2727},
      {"country":"Sweden","continent":"Europe","year":2013,"gdp":40150,"share":0.2660},
      {"country":"Sweden","continent":"Europe","year":2015,"gdp":41300,"share":0.2672}
    ],
    "year_labels": [
      {"label":"1845","gdp":1721,"share":0.1412},
      {"label":"1860","gdp":1640,"share":0.1700},
      {"label":"1870","gdp":2153,"share":0.1640},
      {"label":"1873","gdp":2351,"share":0.1950},
      {"label":"1878","gdp":2351,"share":0.2415},
      {"label":"1895","gdp":3006,"share":0.2470},
      {"label":"1897","gdp":2671,"share":0.2760},
      {"label":"1902","gdp":3460,"share":0.2860},
      {"label":"1906","gdp":3254,"share":0.3195},
      {"label":"1911","gdp":4261,"share":0.2980},
      {"label":"1917","gdp":4072,"share":0.3260},
      {"label":"1916","gdp":5161,"share":0.3330},
      {"label":"1929","gdp":6543,"share":0.3350},
      {"label":"1937","gdp":7765,"share":0.3660},
      {"label":"1939","gdp":7112,"share":0.4010},
      {"label":"1946","gdp":9175,"share":0.4060},
      {"label":"1952","gdp":11380,"share":0.4190},
      {"label":"1954","gdp":10007,"share":0.4490},
      {"label":"1961","gdp":14620,"share":0.4420},
      {"label":"1966","gdp":17890,"share":0.4450},
      {"label":"1968","gdp":15610,"share":0.4090},
      {"label":"1971","gdp":17120,"share":0.3770},
      {"label":"1973","gdp":21510,"share":0.3730},
      {"label":"1979","gdp":19960,"share":0.3400},
      {"label":"1982","gdp":24870,"share":0.3370},
      {"label":"1988","gdp":27510,"share":0.3070},
      {"label":"1993","gdp":27510,"share":0.2720},
      {"label":"2001","gdp":34730,"share":0.2960}
    ],
    "end_labels": [
      {"label":"Sweden","gdp":42540,"share":0.266}
    ]
  },
  "encoding": {
    "y": {
      "field": "share", "type": "quantitative",
      "scale": {"domain": [0, 0.525], "nice": false},
      "axis": {
        "values": [0, 0.1, 0.2, 0.3, 0.4, 0.5], "format": ".0%",
        "labelFont": "Lato", "labelFontSize": 30, "labelColor": "#666666", "labelPadding": 12,
        "domain": false, "ticks": false, "tickSize": 0,
        "grid": true,
        "gridColor": {"condition": {"test": "datum.value === 0", "value": "transparent"}, "value": "#dedede"},
        "gridDash": [10, 8], "gridWidth": 1.5,
        "title": ["Fonte:", "https://ourworldindata.org", "/growth-and-", "transformation"],
        "titleAngle": 0, "titleX": 1834, "titleY": 726, "titleAlign": "left", "titleBaseline": "top",
        "titleFont": "Lato", "titleFontSize": 39, "titleFontWeight": "normal", "titleColor": "#000000", "titleLineHeight": 47
      }
    }
  },
  "layer": [
    {
      "data": {"name": "others"},
      "mark": {"type": "line", "stroke": "#d5d5d5", "strokeWidth": 1.2, "clip": true},
      "encoding": {
        "x": {
          "field": "gdp", "type": "quantitative",
          "scale": {"type": "log", "domain": [604, 61700], "nice": false},
          "axis": {
            "orient": "bottom",
            "values": [604, 700, 800, 900, 1000, 2000, 3000, 4000, 5000, 6000, 7000, 8000, 9000, 10000, 20000, 30000, 40000, 50000, 60000],
            "labelExpr": "indexof([604, 1000, 2000, 5000, 10000, 20000, 50000], datum.value) >= 0 ? '$' + format(datum.value, ',') : ''",
            "labelFont": "Lato", "labelFontSize": 28, "labelColor": "#666666", "labelPadding": 22,
            "labelFlush": false, "labelOverlap": false, "labelBound": false,
            "labelAlign": {"condition": {"test": "datum.value < 650", "value": "left"}, "value": "center"},
            "ticks": false, "tickSize": 0,
            "domain": true, "domainColor": "#a3a3a3", "domainWidth": 2,
            "grid": true,
            "gridColor": {"condition": {"test": "datum.value < 650", "value": "transparent"}, "value": "#dedede"},
            "gridDash": [10, 8], "gridWidth": 1.5,
            "title": "GDP per capita",
            "titleFont": "Lato", "titleFontSize": 28, "titleFontWeight": "bold", "titleColor": "#555555",
            "titleX": 691, "titleY": 92, "titleAlign": "right", "titleBaseline": "middle"
          }
        },
        "detail": {"field": "country", "type": "nominal"},
        "order": {"field": "step", "type": "quantitative"}
      }
    },
    {
      "data": {"name": "others_bold"},
      "mark": {"type": "line", "stroke": "#c9c9c9", "strokeWidth": 3, "strokeJoin": "round", "clip": true},
      "encoding": {
        "x": {"field": "gdp", "type": "quantitative", "axis": null},
        "detail": {"field": "country", "type": "nominal"},
        "order": {"field": "step", "type": "quantitative"}
      }
    },
    {
      "data": {"name": "sweden"},
      "mark": {"type": "line", "strokeWidth": 4.5, "strokeJoin": "round", "strokeCap": "round"},
      "encoding": {
        "x": {"field": "gdp", "type": "quantitative", "axis": null},
        "order": {"field": "year", "type": "quantitative"},
        "color": {
          "field": "continent", "type": "nominal",
          "scale": {
            "domain": ["Africa", "Asia", "Europe", "North America", "South America"],
            "range": ["#c8c8c8", "#c8c8c8", "#4c6a9c", "#c8c8c8", "#c8c8c8"]
          },
          "legend": {
            "orient": "none", "legendX": 1807, "legendY": 0, "padding": 0,
            "title": "1800 •-•-•→ 2015", "titleOrient": "bottom", "titleAnchor": "start", "titleAlign": "left",
            "titleFont": "Lato", "titleFontSize": 30, "titleFontWeight": "normal", "titleColor": "#444444", "titlePadding": 52, "titleLimit": 500,
            "symbolType": "square", "symbolSize": 484, "symbolStrokeWidth": 0,
            "labelFont": "Lato", "labelFontSize": 31, "labelColor": "#222222", "labelOffset": 14, "labelLimit": 500,
            "rowPadding": 15,
            "encode": {"symbols": {"update": {"fill": {"scale": "color", "field": "value"}, "fillOpacity": {"value": 1}, "strokeWidth": {"value": 0}}}}
          }
        },
        "opacity": {
          "field": "country", "type": "ordinal",
          "scale": {"range": [1, 1]},
          "legend": {
            "orient": "none", "legendX": 1807, "legendY": 121, "padding": 0, "title": null,
            "symbolType": "stroke", "symbolSize": 65025, "symbolStrokeColor": "#d0d0d0", "symbolStrokeWidth": 1.5, "symbolOpacity": 1,
            "labelExpr": "''"
          }
        }
      }
    },
    {
      "data": {"name": "year_labels"},
      "mark": {"type": "text", "align": "left", "baseline": "middle", "font": "Lato", "fontSize": 24, "color": "#5a6f9c"},
      "encoding": {
        "x": {
          "field": "gdp", "type": "quantitative",
          "axis": {
            "orient": "bottom", "labels": false, "ticks": false, "domain": false, "grid": false,
            "title": "(international-$ in 2011 prices)",
            "titleFont": "Lato", "titleFontSize": 28, "titleFontWeight": "normal", "titleColor": "#666666",
            "titleX": 698, "titleY": 92, "titleAlign": "left", "titleBaseline": "middle"
          }
        },
        "text": {"field": "label", "type": "nominal"}
      }
    },
    {
      "data": {"name": "end_labels"},
      "mark": {"type": "text", "align": "left", "baseline": "middle", "font": "Lato", "fontSize": 36, "fontWeight": 600, "color": "#4c6a9c"},
      "encoding": {
        "x": {"field": "gdp", "type": "quantitative", "axis": null},
        "text": {"field": "label", "type": "nominal"}
      }
    }
  ],
  "resolve": {"axis": {"x": "independent"}}
}
